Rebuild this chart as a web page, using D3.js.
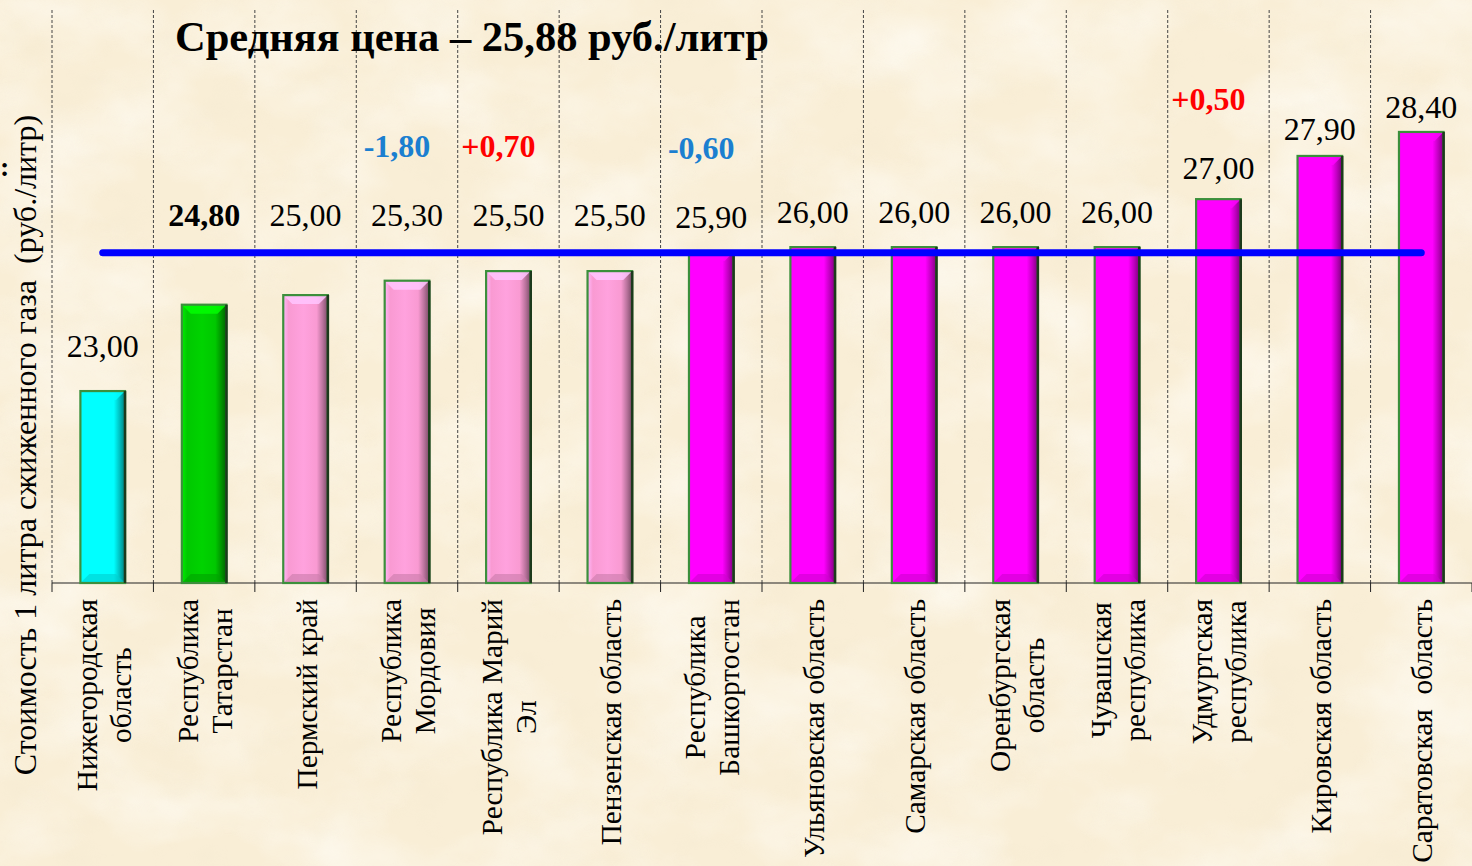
<!DOCTYPE html>
<html lang="ru">
<head>
<meta charset="UTF-8">
<title>Стоимость 1 литра сжиженного газа</title>
<script src="https://d3js.org/d3.v7.min.js"></script>
<style>
  html, body { margin: 0; padding: 0; background: #f8edd5; overflow: hidden; }
  svg text { font-family: "Liberation Serif", "Times New Roman", serif; }
</style>
</head>
<body>
<svg id="chart" width="1472" height="866"></svg>
<script>
// regions (label lines), prices and changes
const regions = [
  ["Нижегородская", "область"],
  ["Республика", "Татарстан"],
  ["Пермский край"],
  ["Республика", "Мордовия"],
  ["Республика Марий", "Эл"],
  ["Пензенская область"],
  ["Республика", "Башкортостан"],
  ["Ульяновская область"],
  ["Самарская область"],
  ["Оренбургская", "область"],
  ["Чувашская", "республика"],
  ["Удмуртская", "республика"],
  ["Кировская область"],
  ["Саратовская  область"]
];
const prices  = [23.00, 24.80, 25.00, 25.30, 25.50, 25.50, 25.90, 26.00, 26.00, 26.00, 26.00, 27.00, 27.90, 28.40];
const changes = [null, null, null, -1.80, 0.70, null, -0.60, null, null, null, null, 0.50, null, null];
const average = 25.88;
const homeRegion = "Республика Татарстан";

const width = 1472, height = 866;
const plot = { left: 52, right: 1472, top: 10, bottom: 583 };

const svg = d3.select("#chart");
const names = regions.map(r => r.join(" "));

const x = d3.scaleBand().domain(names).range([plot.left, plot.right]).padding(0);
const y = d3.scaleLinear().domain([19, 31.15]).range([plot.bottom, 0]);
const barW = x.bandwidth() * 0.44;

const fmt = v => d3.format(".2f")(v).replace(".", ",");
const fmtChange = v => (v > 0 ? "+" : "-") + fmt(Math.abs(v));

const palette = { min: "#00ffff", home: "#00c800", below: "#f99ad2", above: "#ff00ff" };
const minPrice = d3.min(prices);
function kind(i) {
  if (prices[i] === minPrice) return "min";
  if (names[i] === homeRegion) return "home";
  return prices[i] < average ? "below" : "above";
}

// ---- background parchment ----
const defs = svg.append("defs");
const f = defs.append("filter").attr("id", "paper").attr("x", 0).attr("y", 0).attr("width", "100%").attr("height", "100%");
f.append("feTurbulence").attr("type", "fractalNoise").attr("baseFrequency", "0.008 0.012").attr("numOctaves", 4).attr("seed", 7);
f.append("feColorMatrix").attr("type", "matrix")
  .attr("values", "0 0 0 0 1  0 0 0 0 0.99  0 0 0 0 0.95  1.6 0 0 0 -0.62");
const f2 = defs.append("filter").attr("id", "paper2").attr("x", 0).attr("y", 0).attr("width", "100%").attr("height", "100%");
f2.append("feTurbulence").attr("type", "fractalNoise").attr("baseFrequency", "0.02 0.03").attr("numOctaves", 3).attr("seed", 3);
f2.append("feColorMatrix").attr("type", "matrix")
  .attr("values", "0 0 0 0 0.86  0 0 0 0 0.78  0 0 0 0 0.6  1.4 0 0 0 -0.7");

svg.append("rect").attr("width", width).attr("height", height).attr("fill", "#f9eed6");
svg.append("rect").attr("width", width).attr("height", height).attr("filter", "url(#paper)").attr("opacity", 0.8);
svg.append("rect").attr("width", width).attr("height", height).attr("filter", "url(#paper2)").attr("opacity", 0.3);

// ---- bar gradients ----
Object.entries(palette).forEach(([k, c]) => {
  const base = d3.color(c);
  const g = defs.append("linearGradient").attr("id", "grad-" + k).attr("x1", 0).attr("x2", 1).attr("y1", 0).attr("y2", 0);
  [[0, base.brighter(0.5)], [0.12, base], [0.45, base.brighter(0.15)], [0.75, base], [0.88, base.darker(0.8)], [1, base.darker(2)]]
    .forEach(([o, col]) => g.append("stop").attr("offset", o).attr("stop-color", col.formatHex()));
});

// ---- grid, axis ----
const grid = svg.append("g");
const bounds = names.map(n => x(n));
grid.selectAll("line.v").data(bounds).join("line")
  .attr("x1", d => d).attr("x2", d => d)
  .attr("y1", plot.top).attr("y2", plot.bottom)
  .attr("stroke", "#444").attr("stroke-width", 1).attr("stroke-dasharray", "3,2");
grid.selectAll("line.t").data(bounds.concat([plot.right])).join("line")
  .attr("x1", d => d).attr("x2", d => d)
  .attr("y1", plot.bottom).attr("y2", plot.bottom + 9)
  .attr("stroke", "#222").attr("stroke-width", 1);
grid.append("line")
  .attr("x1", plot.left).attr("x2", plot.right)
  .attr("y1", plot.bottom).attr("y2", plot.bottom)
  .attr("stroke", "#222").attr("stroke-width", 1.2);

// ---- bars ----
const bars = svg.append("g").selectAll("g").data(prices).join("g")
  .attr("transform", (d, i) => `translate(${x(names[i]) + (x.bandwidth() - barW) / 2},0)`);

bars.append("rect")
  .attr("x", 0).attr("width", barW)
  .attr("y", d => y(d)).attr("height", d => plot.bottom - y(d))
  .attr("fill", (d, i) => `url(#grad-${kind(i)})`);

const bev = 9;
bars.append("path")
  .attr("d", d => `M0,${y(d)} L${barW},${y(d)} L${barW - bev},${y(d) + bev} L${bev},${y(d) + bev} Z`)
  .attr("fill", (d, i) => d3.color(palette[kind(i)]).brighter(0.7).formatHex())
  .attr("opacity", 0.85);
bars.append("path")
  .attr("d", `M0,${plot.bottom} L${barW},${plot.bottom} L${barW - bev},${plot.bottom - bev} L${bev},${plot.bottom - bev} Z`)
  .attr("fill", (d, i) => d3.color(palette[kind(i)]).darker(0.6).formatHex())
  .attr("opacity", 0.6);
bars.append("rect")
  .attr("x", 0).attr("width", barW)
  .attr("y", d => y(d)).attr("height", d => plot.bottom - y(d))
  .attr("fill", "none").attr("stroke", "#3c8f3c").attr("stroke-width", 2.2);
bars.append("line")
  .attr("x1", barW).attr("x2", barW)
  .attr("y1", d => y(d)).attr("y2", plot.bottom)
  .attr("stroke", "#1c3a1c").attr("stroke-width", 2.5);

// ---- average line ----
svg.append("line")
  .attr("x1", x(names[0]) + x.bandwidth() / 2)
  .attr("x2", x(names[names.length - 1]) + x.bandwidth() / 2)
  .attr("y1", y(average)).attr("y2", y(average))
  .attr("stroke", "#0000ff").attr("stroke-width", 7).attr("stroke-linecap", "round");

// ---- value labels ----
function labelBaseline(v) {
  if (v < average && average - v < 1.5) return y(average) - 27;
  if (v < average) return y(v) - 34;
  return y(v) - Math.max(10, 24 - 4 * (v - 26));
}
svg.append("g").selectAll("text").data(prices).join("text")
  .attr("x", (d, i) => x(names[i]) + x.bandwidth() / 2)
  .attr("y", d => labelBaseline(d))
  .attr("text-anchor", "middle")
  .attr("font-size", 32)
  .attr("font-weight", (d, i) => names[i] === homeRegion ? "bold" : "normal")
  .attr("fill", "#000")
  .text(d => fmt(d));

svg.append("g").selectAll("text").data(changes.map((c, i) => ({ c, i })).filter(d => d.c !== null)).join("text")
  .attr("x", d => x(names[d.i]) + x.bandwidth() / 2 - 10)
  .attr("y", d => labelBaseline(prices[d.i]) - 69)
  .attr("text-anchor", "middle")
  .attr("font-size", 32)
  .attr("font-weight", "bold")
  .attr("fill", d => d.c < 0 ? "#1b7fd0" : "#ff0000")
  .text(d => fmtChange(d.c));

// ---- category labels (rotated) ----
const lineH = 34, labelTop = 599;
const cat = svg.append("g").selectAll("text").data(regions).join("text")
  .attr("font-size", 29.3)
  .attr("fill", "#000")
  .style("white-space", "pre");
cat.each(function (lines, i) {
  const t = d3.select(this);
  lines.forEach(ln => t.append("tspan").text(ln));
  const maxLen = d3.max(t.selectAll("tspan").nodes(), n => n.getComputedTextLength());
  const cy = labelTop + maxLen / 2;
  const cx = x(names[i]) + x.bandwidth() / 2;
  t.attr("transform", `translate(${cx},${cy}) rotate(-90)`).attr("text-anchor", "middle");
  t.selectAll("tspan")
    .attr("x", 0)
    .attr("y", (d, j) => 11 + (j - (lines.length - 1) / 2) * lineH);
});

// ---- axis title ----
svg.append("text")
  .attr("transform", `translate(36,445) rotate(-90)`)
  .attr("text-anchor", "middle")
  .attr("font-size", 32)
  .style("white-space", "pre")
  .text("Стоимость 1 литра сжиженного газа  (руб./литр)");

svg.append("text")
  .attr("x", 0).attr("y", 176)
  .attr("font-size", 28).attr("font-weight", "bold")
  .text(":");

// ---- title ----
svg.append("text")
  .attr("x", 175).attr("y", 51)
  .attr("font-size", 42.5)
  .attr("font-weight", "bold")
  .text("Средняя цена – 25,88 руб./литр");
</script>
</body>
</html>
